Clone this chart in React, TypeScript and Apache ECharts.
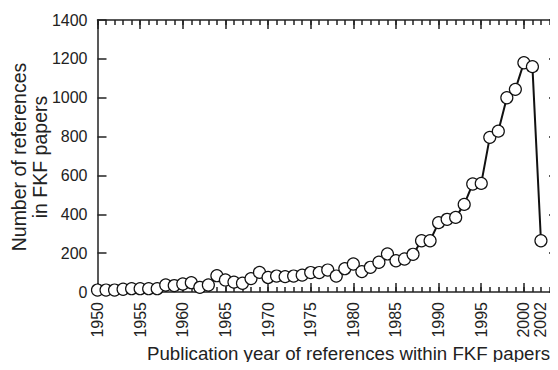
import React, { useEffect, useRef } from "react";
import * as echarts from "echarts";

const years: number[] = [
  1950, 1951, 1952, 1953, 1954, 1955, 1956, 1957, 1958, 1959,
  1960, 1961, 1962, 1963, 1964, 1965, 1966, 1967, 1968, 1969,
  1970, 1971, 1972, 1973, 1974, 1975, 1976, 1977, 1978, 1979,
  1980, 1981, 1982, 1983, 1984, 1985, 1986, 1987, 1988, 1989,
  1990, 1991, 1992, 1993, 1994, 1995, 1996, 1997, 1998, 1999,
  2000, 2001, 2002,
];
const references: number[] = [
  10, 10, 10, 14, 17, 17, 17, 17, 36, 33,
  41, 48, 24, 36, 84, 62, 51, 45, 69, 101,
  75, 82, 79, 82, 87, 100, 100, 113, 82, 120,
  144, 105, 127, 153, 196, 161, 170, 194, 264, 264,
  357, 374, 384, 451, 556, 559, 796, 828, 1000, 1043,
  1180, 1160, 264,
];
const xLabelYears: number[] = [1950, 1955, 1960, 1965, 1970, 1975, 1980, 1985, 1990, 1995, 2000, 2002];
const yTicks: number[] = [0, 200, 400, 600, 800, 1000, 1200, 1400];

const FONT = "'Liberation Sans', Arial, Helvetica, sans-serif";
const INK = "#222";

export default function App() {
  const ref = useRef<HTMLDivElement>(null);
  useEffect(() => {
    if (!ref.current) return;
    const chart = echarts.init(ref.current, undefined, { renderer: "svg" });
    const xMin = 1950;
    const xMax = 2004;
    const lineStyle = { color: INK, width: 1.5 };
    const baseX = {
      type: "value" as const,
      min: xMin,
      max: xMax,
      splitLine: { show: false },
      gridIndex: 0,
    };
    chart.setOption({
      animation: false,
      textStyle: { fontFamily: FONT },
      grid: { left: 97.5, top: 20, width: 461.7, height: 272, containLabel: false },
      xAxis: [
        {
          ...baseX,
          position: "bottom",
          interval: 5,
          axisLine: { show: true, onZero: false, lineStyle },
          axisTick: { show: true, inside: true, length: 9, lineStyle },
          axisLabel: { show: false },
        },
        {
          ...baseX,
          position: "bottom",
          interval: 1,
          axisLine: { show: false, onZero: false },
          axisTick: { show: true, inside: true, length: 5, lineStyle },
          axisLabel: {
            show: true,
            rotate: 90,
            margin: 10,
            fontSize: 16,
            color: INK,
            fontFamily: FONT,
            formatter: (v: number) => (xLabelYears.indexOf(Math.round(v)) >= 0 ? String(Math.round(v)) : ""),
          },
        },
        {
          ...baseX,
          position: "top",
          interval: 5,
          axisLine: { show: true, onZero: false, lineStyle },
          axisTick: { show: true, inside: true, length: 9, lineStyle },
          axisLabel: { show: false },
        },
        {
          ...baseX,
          position: "top",
          interval: 1,
          axisLine: { show: false, onZero: false },
          axisTick: { show: true, inside: true, length: 5, lineStyle },
          axisLabel: { show: false },
        },
      ],
      yAxis: [
        {
          type: "value",
          position: "left",
          min: yTicks[0],
          max: yTicks[yTicks.length - 1],
          interval: 200,
          splitLine: { show: false },
          axisLine: { show: true, onZero: false, lineStyle },
          axisTick: { show: true, inside: true, length: 9, lineStyle },
          axisLabel: {
            show: true,
            fontSize: 16,
            color: INK,
            margin: 10,
            fontFamily: FONT,
            formatter: (v: number) => String(v),
          },
        },
        {
          type: "value",
          position: "right",
          min: yTicks[0],
          max: yTicks[yTicks.length - 1],
          interval: 200,
          splitLine: { show: false },
          axisLine: { show: true, onZero: false, lineStyle },
          axisTick: { show: true, inside: true, length: 9, lineStyle },
          axisLabel: { show: false },
        },
      ],
      graphic: [
        {
          type: "text",
          x: 29,
          y: 157,
          rotation: Math.PI / 2,
          style: {
            text: "Number of references\nin FKF papers",
            fontSize: 19.5,
            lineHeight: 21,
            fill: INK,
            fontFamily: FONT,
            align: "center",
            verticalAlign: "middle",
          },
        },
        {
          type: "text",
          left: 147,
          top: 344,
          style: {
            text: "Publication year of references within FKF papers",
            fontSize: 18.7,
            fill: INK,
            fontFamily: FONT,
          },
        },
      ],
      series: [
        {
          type: "line",
          xAxisIndex: 0,
          yAxisIndex: 0,
          data: years.map((y, i) => [y, references[i]]),
          symbol: "circle",
          symbolSize: 12,
          showAllSymbol: true,
          clip: false,
          lineStyle: { color: "#111", width: 2 },
          itemStyle: { color: "#fff", borderColor: "#111", borderWidth: 1.2 },
        },
      ],
    });
    return () => chart.dispose();
  }, []);
  return <div ref={ref} style={{ width: 558, height: 370, margin: -8 }} />;
}
